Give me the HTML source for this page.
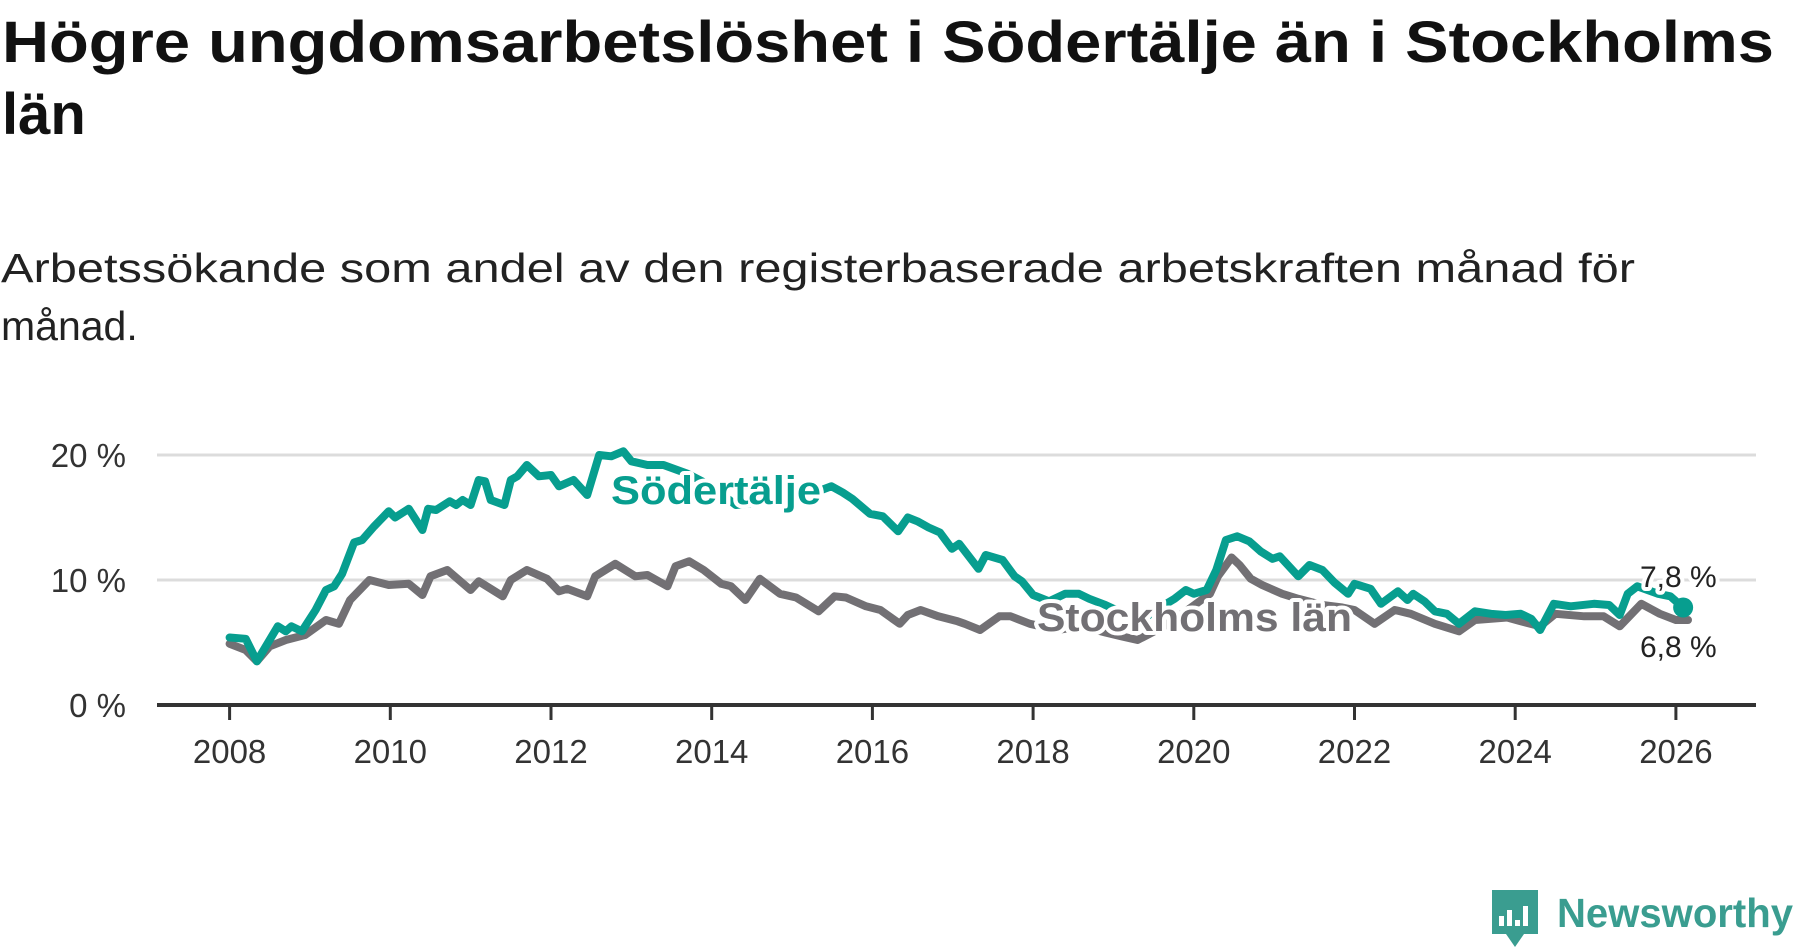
<!DOCTYPE html>
<html><head><meta charset="utf-8"><style>
html,body{margin:0;padding:0;background:#fff;}
svg{display:block;}
</style></head><body>
<svg id="chart" width="1800" height="948" viewBox="0 0 1800 948" xmlns="http://www.w3.org/2000/svg" font-family="'Liberation Sans', sans-serif">
<text x="2" y="62" font-size="58" font-weight="bold" fill="#111" textLength="1772" lengthAdjust="spacingAndGlyphs">Högre ungdomsarbetslöshet i Södertälje än i Stockholms</text>
<text x="2" y="134" font-size="58" font-weight="bold" fill="#111">län</text>
<text x="1" y="282" font-size="41" fill="#222" textLength="1634" lengthAdjust="spacingAndGlyphs">Arbetssökande som andel av den registerbaserade arbetskraften månad för</text>
<text x="1" y="340" font-size="41" fill="#222">månad.</text>
<g id="grid"></g>
<g id="yaxis"></g>
<g id="xaxis"></g>
<g id="series"></g>
<g id="labels"></g>
<g>
  <path d="M1492 890 h46 v44 h-14 l-9 13 l-9 -13 h-14 z" fill="#3a9d90"/>
  <rect x="1499" y="916" width="5" height="10" fill="#fff"/>
  <rect x="1507" y="910" width="5" height="16" fill="#fff"/>
  <rect x="1515" y="920" width="5" height="6" fill="#fff"/>
  <rect x="1523" y="906" width="5" height="20" fill="#fff"/>
  <text x="1557" y="927" font-size="41" font-weight="bold" fill="#3a9d90" textLength="236" lengthAdjust="spacingAndGlyphs">Newsworthy</text>
</g>
</svg>
<script>
const yTicks = [0, 10, 20];
const xTicks = [2008, 2010, 2012, 2014, 2016, 2018, 2020, 2022, 2024, 2026];
const sodYears = [2008.0,2008.2,2008.34,2008.6,2008.7,2008.77,2008.9,2009.07,2009.2,2009.3,2009.4,2009.55,2009.65,2009.8,2009.98,2010.06,2010.23,2010.4,2010.47,2010.57,2010.74,2010.82,2010.9,2011.0,2011.1,2011.18,2011.25,2011.42,2011.5,2011.58,2011.7,2011.85,2012.0,2012.1,2012.28,2012.45,2012.6,2012.75,2012.9,2013.0,2013.2,2013.4,2013.7,2014.0,2014.3,2014.6,2014.9,2015.2,2015.49,2015.63,2015.75,2015.97,2016.13,2016.32,2016.44,2016.56,2016.7,2016.84,2016.99,2017.08,2017.32,2017.41,2017.62,2017.77,2017.86,2018.0,2018.2,2018.4,2018.57,2018.7,2018.9,2019.1,2019.3,2019.5,2019.76,2019.9,2020.0,2020.16,2020.28,2020.4,2020.54,2020.69,2020.83,2020.98,2021.07,2021.3,2021.44,2021.6,2021.75,2021.92,2022.0,2022.2,2022.33,2022.54,2022.66,2022.73,2022.87,2023.0,2023.15,2023.3,2023.5,2023.7,2023.88,2024.07,2024.2,2024.31,2024.48,2024.69,2024.98,2025.17,2025.3,2025.4,2025.52,2025.78,2025.93,2026.09];
const sodValues = [5.4,5.3,3.5,6.3,5.9,6.3,5.9,7.6,9.2,9.5,10.5,13.0,13.2,14.3,15.5,15.0,15.7,14.0,15.7,15.6,16.3,16.0,16.4,16.0,18.0,17.9,16.4,16.0,18.0,18.3,19.2,18.3,18.4,17.5,18.0,16.8,20.0,19.9,20.3,19.5,19.2,19.2,18.5,17.5,16.0,16.2,16.6,16.8,17.5,17.0,16.5,15.3,15.1,13.9,15.0,14.7,14.2,13.8,12.5,12.9,10.9,12.0,11.6,10.3,9.9,8.8,8.3,8.9,8.9,8.5,8.0,7.4,6.5,7.5,8.5,9.2,8.9,9.2,10.8,13.2,13.5,13.1,12.3,11.7,11.9,10.3,11.2,10.8,9.8,8.9,9.7,9.3,8.1,9.1,8.4,8.9,8.3,7.5,7.3,6.5,7.5,7.3,7.2,7.3,6.9,6.0,8.1,7.9,8.1,8.0,7.2,8.9,9.5,8.9,8.7,7.8];
const stoYears = [2008.0,2008.2,2008.34,2008.5,2008.7,2008.94,2009.2,2009.36,2009.5,2009.74,2009.98,2010.23,2010.4,2010.5,2010.71,2011.0,2011.1,2011.4,2011.5,2011.7,2011.95,2012.1,2012.2,2012.45,2012.55,2012.8,2013.05,2013.2,2013.45,2013.55,2013.72,2013.9,2014.12,2014.24,2014.42,2014.6,2014.85,2015.05,2015.33,2015.53,2015.67,2015.92,2016.1,2016.34,2016.44,2016.6,2016.82,2017.06,2017.15,2017.34,2017.58,2017.72,2017.96,2018.3,2018.6,2018.9,2019.1,2019.3,2019.6,2019.9,2020.2,2020.3,2020.47,2020.57,2020.71,2020.85,2021.1,2021.3,2021.6,2021.85,2022.0,2022.25,2022.5,2022.7,2023.0,2023.3,2023.5,2023.9,2024.07,2024.31,2024.5,2024.86,2025.1,2025.3,2025.57,2025.8,2026.0,2026.15];
const stoValues = [4.9,4.4,3.5,4.7,5.2,5.6,6.8,6.5,8.4,10.0,9.6,9.7,8.8,10.3,10.8,9.2,9.9,8.7,10.0,10.8,10.1,9.1,9.3,8.7,10.3,11.3,10.3,10.4,9.5,11.1,11.5,10.8,9.7,9.5,8.4,10.1,8.9,8.6,7.5,8.7,8.6,7.9,7.6,6.5,7.2,7.6,7.1,6.7,6.5,6.0,7.1,7.1,6.5,6.0,6.3,5.8,5.5,5.2,6.2,7.5,8.9,10.3,11.8,11.2,10.1,9.6,8.9,8.5,8.0,7.8,7.6,6.5,7.6,7.3,6.5,5.9,6.8,7.0,6.7,6.3,7.3,7.1,7.1,6.3,8.1,7.3,6.8,6.8];
const lastLabels = ["7,8 %", "6,8 %"];

const NS = "http://www.w3.org/2000/svg";
const X0 = 229.6, PXYR = 80.35, Y0 = 705, PXPCT = 12.5;
function xs(yr){ return X0 + (yr - 2008) * PXYR; }
function ys(v){ return Y0 - v * PXPCT; }
function mk(tag, attrs, parent){ const e = document.createElementNS(NS, tag); for (const k in attrs) e.setAttribute(k, attrs[k]); parent.appendChild(e); return e; }

const grid = document.getElementById('grid'), yax = document.getElementById('yaxis'), xax = document.getElementById('xaxis');
yTicks.forEach(t => {
  if (t > 0) {
    const l = mk('line', {x1:157, x2:1756, y1:ys(t), y2:ys(t), stroke:'#dcdcdc', 'stroke-width':3}, grid);
    
    
  }
  const tx = mk('text', {x:126, y:ys(t)+12, 'text-anchor':'end', 'font-size':33, fill:'#333'}, yax);
  tx.textContent = t + ' %';
  
  
});
const axl = mk('line', {x1:157, x2:1756, y1:Y0, y2:Y0, stroke:'#333', 'stroke-width':4}, xax);


xTicks.forEach(t => {
  const tk = mk('line', {x1:xs(t), x2:xs(t), y1:Y0, y2:Y0+15, stroke:'#333', 'stroke-width':3}, xax);
  
  
  const tx = mk('text', {x:xs(t), y:763, 'text-anchor':'middle', 'font-size':33, fill:'#333'}, xax);
  tx.textContent = t;
  
  
});

const ser = document.getElementById('series');
function line(yrs, vals, color, name){
  const d = yrs.map((y,i) => (i ? 'L' : 'M') + xs(y).toFixed(1) + ' ' + ys(vals[i]).toFixed(1)).join(' ');
  const p = mk('path', {d:d, fill:'none', stroke:color, 'stroke-width':8, 'stroke-linejoin':'round', 'stroke-linecap':'round'}, ser);
  
  
}
line(stoYears, stoValues, '#727074', 'stockholm-line');
line(sodYears, sodValues, '#079e8f', 'sodertalje-line');
const dot = mk('circle', {cx:xs(sodYears[sodYears.length-1]), cy:ys(sodValues[sodValues.length-1]), r:10, fill:'#079e8f'}, ser);



const lab = document.getElementById('labels');
function label(txt, x, y, size, color, weight, name, len){
  const a = {x:x, y:y, 'font-size':size, fill:color, 'font-weight':weight, stroke:'#fff', 'stroke-width':8, 'paint-order':'stroke', 'stroke-linejoin':'round'};
  if (len) { a.textLength = len; a.lengthAdjust = 'spacingAndGlyphs'; }
  const t = mk('text', a, lab);
  t.textContent = txt;
  
  
}
label('Södertälje', 611, 504, 40, '#079e8f', 'bold', 'sodertalje-label', 210);
label('Stockholms län', 1037, 631, 40, '#727074', 'bold', 'stockholm-label', 315);
label(lastLabels[0], 1640, 587, 30, '#222', 'normal', 'sodertalje-last-value');
label(lastLabels[1], 1640, 657, 30, '#222', 'normal', 'stockholm-last-value');
</script>
</body></html>
